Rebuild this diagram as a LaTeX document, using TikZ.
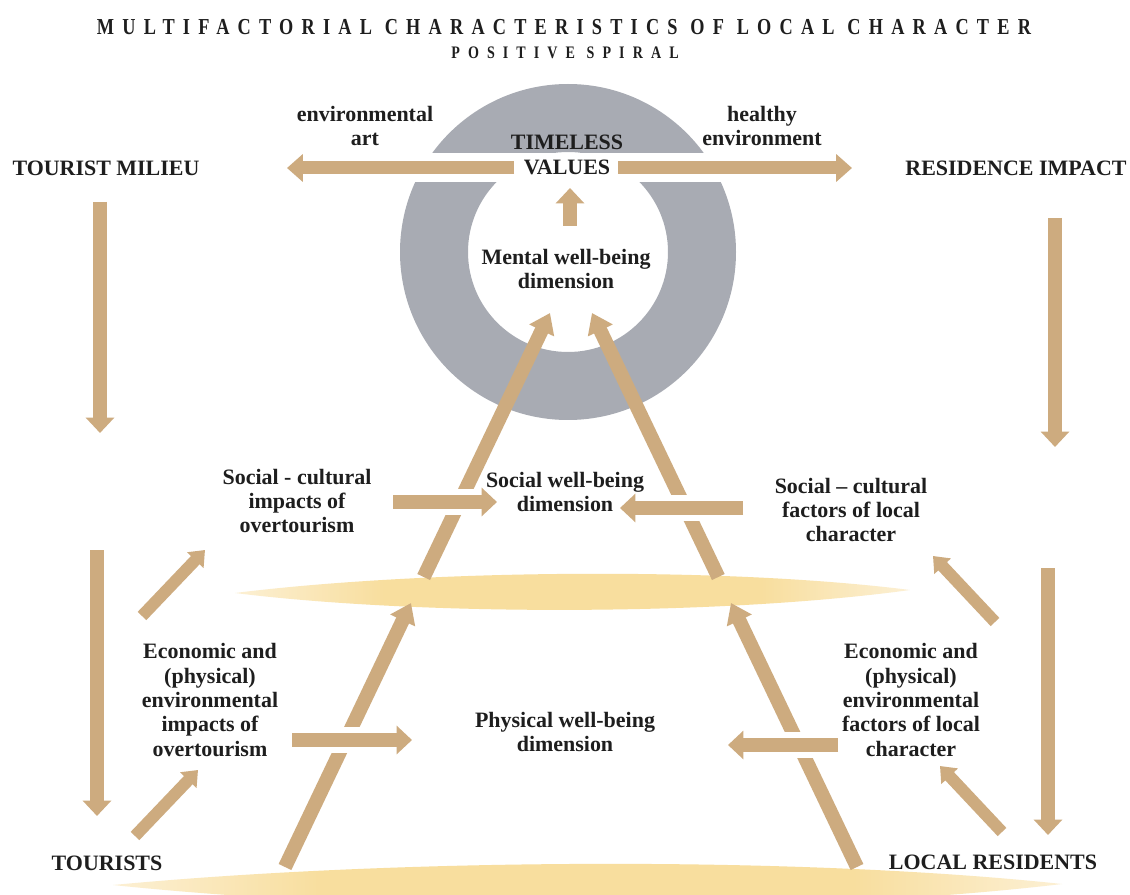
\documentclass[tikz,border=0pt]{standalone}
\usepackage{fontspec}
\setmainfont{Liberation Serif}
\newfontfamily\titlefont{Liberation Serif Bold}[FakeStretch=0.8,LetterSpace=36]
\newfontfamily\subtitlefont{Liberation Serif Bold}[FakeStretch=0.8,LetterSpace=46]
\usetikzlibrary{arrows.meta,calc}
\definecolor{arrowtan}{RGB}{205,171,127}
\definecolor{ringgray}{RGB}{168,171,179}
\definecolor{bandyellow}{RGB}{248,222,158}
\definecolor{bandlight}{RGB}{252,240,212}
\definecolor{ink}{RGB}{30,30,30}
\pgfdeclarehorizontalshading{bandshade}{100bp}{color(0bp)=(bandlight); color(25bp)=(bandlight); color(36bp)=(bandyellow); color(64bp)=(bandyellow); color(75bp)=(bandlight); color(100bp)=(bandlight)}
\begin{document}
\begin{tikzpicture}[x=0.02cm,y=-0.02cm,
  lbl/.style={font=\fontsize{12.5}{13.9}\selectfont\bfseries, text=ink, align=center, inner sep=0pt},
  bigarrow/.style={draw=arrowtan, line width=7.9pt, -{Triangle[length=8.8pt,width=15.9pt]}},
  harrow/.style={draw=arrowtan, line width=7.4pt, -{Triangle[length=9pt,width=15.3pt]}},
  diagarrow/.style={draw=arrowtan, line width=8pt, -{Triangle[length=11pt,width=15pt]}},
  smallarrow/.style={draw=arrowtan, line width=6.8pt, -{Triangle[length=8pt,width=12.5pt]}},
  gapline/.style={draw=white, line width=15pt},
]
\useasboundingbox (0,0) rectangle (1130,895);
\clip (0,0) rectangle (1130,895);
\fill[white] (0,0) rectangle (1130,895);

% yellow bands
\shade[shading=bandshade]
  (235,593) .. controls (420,570) and (720,566) .. (910,590)
  .. controls (720,616) and (420,616) .. (235,593) -- cycle;
\shade[shading=bandshade]
  (113,885) .. controls (400,858) and (800,856) .. (1062,884)
  .. controls (800,915) and (400,915) .. (113,885) -- cycle;

% ring
\fill[ringgray, even odd rule] (568,252) circle (168) (568,252) circle (100);
\fill[white] (390,153) rectangle (750,182);

% titles
\node (title) at (564,27) {\titlefont\fontsize{13}{15}\selectfont\color{ink}MULTIFACTORIAL CHARACTERISTICS OF LOCAL CHARACTER};
\node (subtitle) at (565,53) {\subtitlefont\fontsize{10}{12}\selectfont\color{ink}POSITIVE SPIRAL};

% coordinates
\coordinate (dl1s) at (285,867);  \coordinate (dl1e) at (411,603);
\coordinate (dl2s) at (423.7,577); \coordinate (dl2e) at (550,313);
\coordinate (dr1s) at (857,867);  \coordinate (dr1e) at (731,603);
\coordinate (dr2s) at (718.3,577); \coordinate (dr2e) at (592,313);

% diagonals
\draw[diagarrow] (dl1s) -- (dl1e);
\draw[diagarrow] (dl2s) -- (dl2e);
\draw[diagarrow] (dr1s) -- (dr1e);
\draw[diagarrow] (dr2s) -- (dr2e);

% gaps
\coordinate (g1a) at (440,502); \coordinate (g1b) at (480,502);
\coordinate (g2a) at (320,740); \coordinate (g2b) at (372,740);
\coordinate (g3a) at (775,745); \coordinate (g3b) at (822,745);
\coordinate (g4a) at (662,508); \coordinate (g4b) at (708,508);
\draw[gapline] (g1a) -- (g1b);
\draw[gapline] (g2a) -- (g2b);
\draw[gapline] (g3a) -- (g3b);
\draw[gapline] (g4a) -- (g4b);

% horizontal arrows
\coordinate (htl) at (514,168); \coordinate (htlt) at (287,168);
\coordinate (htr) at (618,168); \coordinate (htrt) at (852,168);
\coordinate (up1) at (570,226); \coordinate (up1t) at (570,188);
\coordinate (sl) at (393,502); \coordinate (slt) at (497,502);
\coordinate (sr) at (743,508); \coordinate (srt) at (620,508);
\coordinate (pl) at (292,740); \coordinate (plt) at (412,740);
\coordinate (pr) at (838,745); \coordinate (prt) at (728,745);
\draw[harrow] (htl) -- (htlt);
\draw[harrow] (htr) -- (htrt);
\draw[bigarrow] (up1) -- (up1t);
\draw[bigarrow] (sl) -- (slt);
\draw[bigarrow] (sr) -- (srt);
\draw[bigarrow] (pl) -- (plt);
\draw[bigarrow] (pr) -- (prt);

% vertical arrows
\coordinate (v1) at (100,202); \coordinate (v1t) at (100,433);
\coordinate (v2) at (97,550); \coordinate (v2t) at (97,816);
\coordinate (v3) at (1055,218); \coordinate (v3t) at (1055,447);
\coordinate (v4) at (1048,568); \coordinate (v4t) at (1048,835);
\draw[bigarrow] (v1) -- (v1t);
\draw[bigarrow] (v2) -- (v2t);
\draw[bigarrow] (v3) -- (v3t);
\draw[bigarrow] (v4) -- (v4t);

% small diagonal arrows
\coordinate (s1) at (142,616); \coordinate (s1t) at (205,550);
\coordinate (s2) at (135,836); \coordinate (s2t) at (198,770);
\coordinate (s3) at (995,622); \coordinate (s3t) at (933,556);
\coordinate (s4) at (1002,832); \coordinate (s4t) at (940,766);
\draw[smallarrow] (s1) -- (s1t);
\draw[smallarrow] (s2) -- (s2t);
\draw[smallarrow] (s3) -- (s3t);
\draw[smallarrow] (s4) -- (s4t);

% labels
\node[lbl] (envart) at (365,126) {environmental\\art};
\node[lbl] (healthy) at (762,126) {healthy\\environment};
\node[lbl] (timeless) at (567,155) {TIMELESS\\VALUES};
\node[lbl] (milieu) at (106,168) {TOURIST MILIEU};
\node[lbl] (resimpact) at (1016,168) {RESIDENCE IMPACT};
\node[lbl] (mental) at (566,269) {Mental well-being\\dimension};
\node[lbl] (scleft) at (297,501) {Social - cultural\\impacts of\\overtourism};
\node[lbl] (socialwb) at (565,492) {Social well-being\\dimension};
\node[lbl] (scright) at (851,510) {Social -- cultural\\factors of local\\character};
\node[lbl] (econleft) at (210,700) {Economic and\\(physical)\\environmental\\impacts of\\overtourism};
\node[lbl] (physwb) at (565,732) {Physical well-being\\dimension};
\node[lbl] (econright) at (911,700) {Economic and\\(physical)\\environmental\\factors of local\\character};
\node[lbl] (tourists) at (107,863) {TOURISTS};
\node[lbl] (residents) at (993,862) {LOCAL RESIDENTS};
\end{tikzpicture}
\end{document}
